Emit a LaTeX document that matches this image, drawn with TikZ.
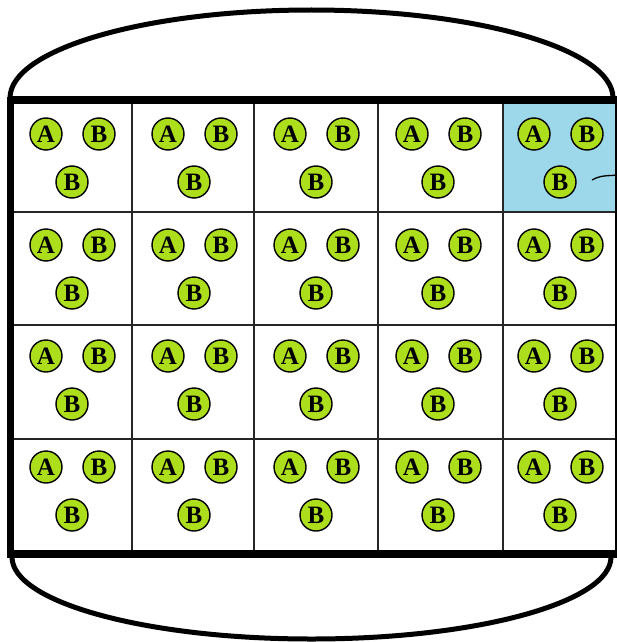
\documentclass[tikz,border=0pt]{standalone}
\usepackage{fontspec}
\setmainfont{Liberation Serif}
\usetikzlibrary{positioning}

\definecolor{ballgreen}{RGB}{173,222,28}
\definecolor{cellblue}{RGB}{157,216,234}

\begin{document}
\begin{tikzpicture}[x=1pt,y=-1pt,
ball/.style={circle,draw=black,line width=1.4pt,fill=ballgreen,minimum size=32pt,inner sep=0pt,font=\fontsize{25}{25}\selectfont\bfseries},
wall/.style={line width=7.5pt},
dome/.style={line width=5pt},
cellline/.style={line width=1.8pt,draw=black!85},]
\useasboundingbox (0,0) rectangle (616,642);
\fill[cellblue] (503,100) rectangle (620,213);

% cell lines
\foreach \x in {132,254,378,503}
  \draw[cellline] (\x,100) -- (\x,554);
\foreach \y in {212,325,439}
  \draw[cellline] (10,\y) -- (620,\y);

% walls
\draw[wall] (10.5,96.5) -- (10.5,557.5);
\draw[wall] (10.5,100) -- (622,100);
\draw[wall] (10.5,554) -- (622,554);
\draw[wall] (618.5,100) -- (618.5,554);

% domes
\draw[dome] (10,98) arc[start angle=180,end angle=0,x radius=301.5pt,y radius=88pt];
\draw[dome] (12,557) arc[start angle=180,end angle=360,x radius=299.5pt,y radius=82pt];

% balls
\foreach \r in {0,...,3}
  \foreach \c in {0,...,4} {
    \node[ball] (a-\r-\c) at (46+122*\c,134+111*\r) {A};
    \node[ball] (b-\r-\c) at (99+122*\c,134+111*\r) {B};
    \node[ball] (c-\r-\c) at (72+122*\c,182+111*\r) {B};
  }

\coordinate (tail) at (592,180);
\coordinate (exit) at (620,175);
\draw[line width=1.3pt] (tail) .. controls (600,176) .. (exit);
\end{tikzpicture}
\end{document}
